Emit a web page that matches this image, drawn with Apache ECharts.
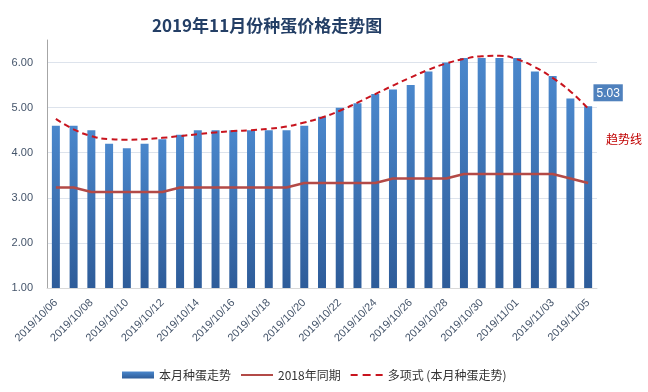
<!DOCTYPE html>
<html>
<head>
<meta charset="utf-8">
<script src="https://cdn.jsdelivr.net/npm/echarts@6/dist/echarts.min.js"></script>
<style>html,body{margin:0;padding:0;background:#fff}#c{width:648px;height:392px}</style>
</head>
<body>
<div id="c"></div>
<script>
const categories = ['2019/10/06','2019/10/07','2019/10/08','2019/10/09','2019/10/10','2019/10/11','2019/10/12','2019/10/13','2019/10/14','2019/10/15','2019/10/16','2019/10/17','2019/10/18','2019/10/19','2019/10/20','2019/10/21','2019/10/22','2019/10/23','2019/10/24','2019/10/25','2019/10/26','2019/10/27','2019/10/28','2019/10/29','2019/10/30','2019/10/31','2019/11/01','2019/11/02','2019/11/03','2019/11/04','2019/11/05'];
const thisMonth = [4.6,4.6,4.5,4.2,4.1,4.2,4.3,4.4,4.5,4.5,4.5,4.5,4.5,4.5,4.6,4.8,5.0,5.1,5.3,5.4,5.5,5.8,6.0,6.1,6.1,6.1,6.1,5.8,5.7,5.2,5.03];
const lastYear = [3.23,3.23,3.13,3.13,3.13,3.13,3.13,3.23,3.23,3.23,3.23,3.23,3.23,3.23,3.33,3.33,3.33,3.33,3.33,3.43,3.43,3.43,3.43,3.53,3.53,3.53,3.53,3.53,3.53,3.43,3.33];
const trend = [4.75,4.52,4.37,4.30,4.29,4.30,4.33,4.37,4.41,4.45,4.48,4.50,4.53,4.58,4.67,4.78,4.93,5.11,5.30,5.49,5.67,5.84,5.98,6.08,6.14,6.15,6.07,5.90,5.66,5.36,4.98];
const seriesNames = ['本月种蛋走势','2018年同期','多项式 (本月种蛋走势)'];

const FONT = "'Liberation Sans','Noto Sans CJK SC',sans-serif";
const chart = echarts.init(document.getElementById('c'));
const barData = thisMonth.map((v, i) => i === thisMonth.length - 1 ? {
  value: v,
  label: {show: true, position: 'top', offset: [20, 0], color: '#fff', backgroundColor: '#4f81bd',
          padding: [3, 3, 2, 3], fontSize: 12, fontFamily: FONT, formatter: '{c}'}
} : v);
chart.setOption({
  animation: false,
  title: {
    text: '2019年11月份种蛋价格走势图', left: 147, top: 12,
    textStyle: {fontSize: 17, fontWeight: 'bold', color: '#243f66', fontFamily: "'Noto Sans CJK SC',sans-serif"}
  },
  grid: {left: 47, right: 51, top: 40, bottom: 104},
  legend: {
    left: 117, top: 364, itemGap: 10, itemWidth: 32, itemHeight: 7,
    textStyle: {fontSize: 12, color: '#333', fontFamily: "'Noto Sans CJK SC',sans-serif"},
    data: [
      {name: seriesNames[0], icon: 'rect'},
      {name: seriesNames[1], icon: 'path://M0,0h32v2h-32z'},
      {name: seriesNames[2], icon: 'path://M0,0h7v2h-7z M12,0h8v2h-8z M25,0h7v2h-7z'}
    ]
  },
  xAxis: {
    type: 'category', data: categories,
    axisLine: {lineStyle: {color: '#d9d9d9'}},
    axisTick: {show: false},
    axisLabel: {interval: 1, rotate: 45, fontSize: 11, color: '#44546a', fontFamily: FONT, margin: 13}
  },
  yAxis: {
    type: 'value', min: 1, max: 6.5, interval: 1,
    axisLine: {show: true, lineStyle: {color: '#a6a6a6'}},
    axisTick: {show: false},
    axisLabel: {formatter: v => v.toFixed(2), fontSize: 11, color: '#44546a', fontFamily: FONT, margin: 14, showMaxLabel: false},
    splitLine: {show: true, showMaxLine: false, lineStyle: {color: '#dde3ec'}}
  },
  series: [
    {
      name: seriesNames[0], type: 'bar', barWidth: 8, data: barData,
      itemStyle: {color: new echarts.graphic.LinearGradient(0, 0, 0, 1, [
        {offset: 0, color: '#4a87cc'}, {offset: 1, color: '#2e5c99'}])}
    },
    {
      name: seriesNames[1], type: 'line', data: lastYear, symbol: 'none',
      lineStyle: {color: '#b34a47', width: 2.5}, itemStyle: {color: '#b34a47'}
    },
    {
      name: seriesNames[2], type: 'line', data: trend, symbol: 'none', smooth: true,
      lineStyle: {color: '#c8141e', width: 2, type: [6, 4]}, itemStyle: {color: '#c8141e'}
    }
  ],
  graphic: [{
    type: 'text', left: 606, top: 133,
    style: {text: '趋势线', fill: '#c00000', fontSize: 12, fontFamily: "'Noto Sans CJK SC',sans-serif"}
  }]
});
</script>
</body>
</html>
